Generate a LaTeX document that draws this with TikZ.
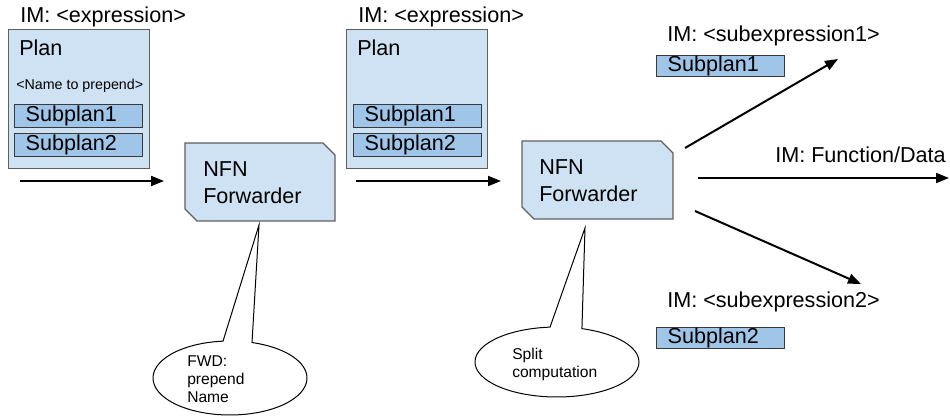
\documentclass[tikz,border=0pt]{standalone}
\usepackage{fontspec}
\setmainfont{Liberation Sans}
\usetikzlibrary{arrows.meta}
\definecolor{planfill}{HTML}{CFE2F3}
\definecolor{subfill}{HTML}{9FC5E8}
\definecolor{boxline}{HTML}{5F5F5F}
\definecolor{subline}{HTML}{3A3A3A}
\begin{document}
\begin{tikzpicture}[x=0.75pt,y=0.75pt,
  lbl/.style={inner sep=0pt, font=\fontsize{16.2}{20.25}\selectfont},
  small/.style={inner sep=0pt, font=\fontsize{10.7}{13}\selectfont},
  note/.style={inner sep=0pt, align=left, font=\fontsize{11.7}{13.5}\selectfont},
  planbox/.style={draw=boxline, fill=planfill, line width=0.9pt, inner sep=0pt, anchor=north west},
  fwdbox/.style={draw=boxline, fill=planfill, line width=0.9pt},
  subbox/.style={draw=subline, fill=subfill, line width=0.9pt, anchor=north west,
    inner xsep=8.25pt, inner ysep=0pt, text width=79.5pt, align=left,
    font=\fontsize{16.2}{20.25}\selectfont},
  flow/.style={-{Triangle[length=9.75pt,width=7.5pt]}, line width=1.5pt},
  callout/.style={draw=black, fill=white, line width=0.75pt},
]
\useasboundingbox (0,0) rectangle (950,-416);

% ---------- first stage: plan with a name to prepend ----------
\node[lbl, anchor=base west] (im1) at (20,-23) {IM: <expression>};
\node[planbox, minimum width=105.75pt, minimum height=104.25pt] (plan1) at (8,-29) {};
\node[lbl, anchor=base west] (plan1t) at (19,-56) {Plan};
\node[small, anchor=base west] (prep) at (16,-90) {<Name to prepend>};
\node[subbox, minimum height=17.25pt] (p1s1) at (14,-104) {Subplan1};
\node[subbox, minimum height=17.25pt] (p1s2) at (14,-133) {Subplan2};

\coordinate (a1s) at (20,-181);
\coordinate (a1e) at (164,-181);
\draw[flow] (a1s) -- (a1e);

% forwarder 1 (base anchor sits on the last line)
\draw[fwdbox] (185,-143) -- (323,-143) -- (335,-155) -- (335,-221)
  -- (197,-221) -- (185,-209) -- cycle;
\node[lbl, anchor=base west, align=left] (fwd1) at (203,-204) {NFN\\Forwarder};

% ---------- second stage: plan after forwarding ----------
\node[lbl, anchor=base west] (im2) at (358,-23) {IM: <expression>};
\node[planbox, minimum width=105.75pt, minimum height=104.25pt] (plan2) at (346,-29) {};
\node[lbl, anchor=base west] (plan2t) at (357,-56) {Plan};
\node[subbox, minimum height=17.25pt] (p2s1) at (353,-104) {Subplan1};
\node[subbox, minimum height=17.25pt] (p2s2) at (353,-133) {Subplan2};

\coordinate (a2s) at (356,-181);
\coordinate (a2e) at (501,-181);
\draw[flow] (a2s) -- (a2e);

% forwarder 2
\draw[fwdbox] (522,-141) -- (661,-141) -- (673,-153) -- (673,-219)
  -- (534,-219) -- (522,-207) -- cycle;
\node[lbl, anchor=base west, align=left] (fwd2) at (539,-202) {NFN\\Forwarder};

% ---------- outputs of the split ----------
\node[lbl, anchor=base west] (im3) at (667,-42) {IM: <subexpression1>};
\node[subbox, minimum height=15.75pt] (r1) at (656,-55) {Subplan1};

\node[lbl, anchor=base west] (im4) at (775,-163) {IM: Function/Data};

\node[lbl, anchor=base west] (im5) at (667,-308) {IM: <subexpression2>};
\node[subbox, minimum height=15.75pt] (r2) at (656,-327) {Subplan2};

\coordinate (a3s) at (685,-148);
\coordinate (a3e) at (838,-59);
\coordinate (a4s) at (698,-178);
\coordinate (a4e) at (949,-178);
\coordinate (a5s) at (695,-211);
\coordinate (a5e) at (861,-284);
\draw[flow] (a3s) -- (a3e);
\draw[flow] (a4s) -- (a4e);
\draw[flow] (a5s) -- (a5e);

% ---------- callouts ----------
\coordinate (c1) at (230,-378);
\coordinate (t1) at (259,-225);
\draw[callout] (t1) -- ([shift={(95.2:77 and 37)}]c1)
  arc[start angle=95.2, end angle=433.4, x radius=77, y radius=37] -- cycle;
\node[note, anchor=base west] (n1) at (187,-403) {FWD:\\prepend\\Name};

\coordinate (c2) at (557,-362);
\coordinate (t2) at (585,-228);
\draw[callout] (t2) -- ([shift={(94.9:82 and 35)}]c2)
  arc[start angle=94.9, end angle=432.3, x radius=82, y radius=35] -- cycle;
\node[note, anchor=base west] (n2) at (512,-378) {Split\\computation};
\end{tikzpicture}
\end{document}
